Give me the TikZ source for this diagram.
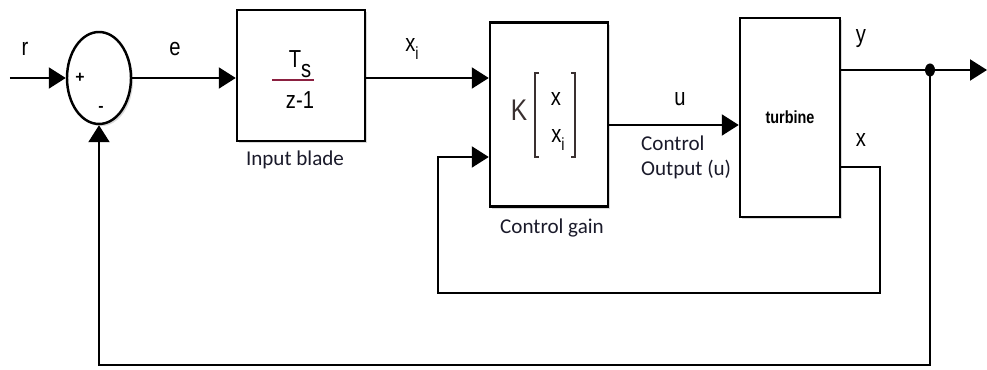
\documentclass[tikz,border=0pt]{standalone}
\usepackage{fontspec}
\setmainfont{Liberation Sans}
\newfontfamily\narrowfont[FakeStretch=0.82]{Liberation Sans}
\newfontfamily\captionfont{Carlito}
\usetikzlibrary{arrows.meta, shapes.geometric, shadows, positioning}

\begin{document}
\begin{tikzpicture}[
    block/.style={draw=black, line width=1.4pt, fill=white,
        drop shadow={shadow xshift=1.2pt, shadow yshift=-1.2pt, opacity=0.3}},
    signal/.style={line width=1.2pt, -{Triangle[length=3.4mm,width=4.2mm]}},
    siglabel/.style={font=\narrowfont\fontsize{14}{16}\selectfont},
    caption/.style={font=\captionfont\fontsize{12}{14}\selectfont, text=captionColour}
]
    % Fix the picture size
    \useasboundingbox (0,0) rectangle (19.74,7.4);

    \definecolor{fracColour}{HTML}{8B2040}
    \definecolor{captionColour}{HTML}{1A1A2A}
    \definecolor{gainColour}{HTML}{3A3030}

    % Signal levels
    \coordinate (rin) at (0.2,5.84);
    \coordinate (ulev) at (0,4.9);
    \coordinate (ylev) at (0,6.0);
    \coordinate (xlev) at (0,4.06);
    \coordinate (in2) at (8.76,4.26);
    \coordinate (fbR) at (17.6,1.54);
    \coordinate (branch) at (18.6,6.0);
    \coordinate (yout) at (19.74,6.0);
    \coordinate (fbBottom) at (18.6,0.1);

    % Draw the summing junction and the blocks
    \node[block, ellipse, minimum width=1.28cm, minimum height=1.84cm] (sum) at (1.98,5.84) {};
    \node[block, minimum width=2.56cm, minimum height=2.62cm] (blade) at (6.02,5.89) {};
    \node[block, minimum width=2.36cm, minimum height=3.68cm] (gain) at (10.98,5.11) {};
    \node[block, minimum width=2cm, minimum height=3.98cm,
        font=\narrowfont\bfseries\fontsize{10}{12}\selectfont] (turbine) at (15.8,5.05) {turbine};

    % Signs of the summing junction
    \node[font=\bfseries\fontsize{9}{10}\selectfont] (plus) at (1.6,5.84) {+};
    \node[font=\bfseries\fontsize{9}{10}\selectfont] (minus) at (2.02,5.22) {-};

    % Transfer function of the input blade
    \node[siglabel] (ts) at (6.0,6.12) {T\raisebox{-0.75ex}{s}};
    \draw[fracColour, line width=1.4pt] (5.44,5.8) -- (6.28,5.8);
    \node[siglabel] (den) at (6.0,5.4) {z-1};

    % Gain matrix
    \node[font=\narrowfont\fontsize{17}{19}\selectfont, text=gainColour] (k) at (10.38,5.2) {K};
    \draw[gainColour, line width=1pt] (10.78,5.94) -- (10.7,5.94) -- (10.7,4.26) -- (10.78,4.26);
    \draw[gainColour, line width=1pt] (11.42,5.94) -- (11.5,5.94) -- (11.5,4.26) -- (11.42,4.26);
    \node[siglabel] (kx) at (11.12,5.42) {x};
    \node[siglabel] (kxi) at (11.16,4.6) {x\raisebox{-0.55ex}{\fontsize{10}{10}\selectfont i}};

    % Forward path
    \draw[signal] (rin) -- (sum.west);
    \draw[signal] (sum.east) -- (sum.east -| blade.west);
    \draw[signal] (blade.east |- sum) -- (gain.west |- sum);
    \draw[signal] (gain.east |- ulev) -- (turbine.west |- ulev);
    \draw[signal] (turbine.east |- ylev) -- (yout);

    % State feedback into the gain
    \draw[signal] (turbine.east |- xlev) -| (fbR) -| (in2) -- (in2 -| gain.west);

    % Output feedback into the summing junction
    \fill (branch) ellipse (0.1 and 0.13);
    \draw[signal] (branch) -- (fbBottom) -| (sum.south);

    % Signal labels
    \node[siglabel] (rlab) at (0.5,6.42) {r};
    \node[siglabel] (elab) at (3.5,6.42) {e};
    \node[siglabel] (xilab) at (8.24,6.42) {x\raisebox{-0.55ex}{\fontsize{10}{10}\selectfont i}};
    \node[siglabel] (ulab) at (13.6,5.42) {u};
    \node[siglabel] (ylab) at (17.22,6.62) {y};
    \node[siglabel] (xlab) at (17.22,4.6) {x};

    % Block captions
    \node[caption] (bladecap) at (5.9,4.2) {Input blade};
    \node[caption] (gaincap) at (11.04,2.84) {Control gain};
    \node[caption, align=left, anchor=north west] (ucap) at (12.7,4.8) {Control\\Output (u)};
\end{tikzpicture}
\end{document}
